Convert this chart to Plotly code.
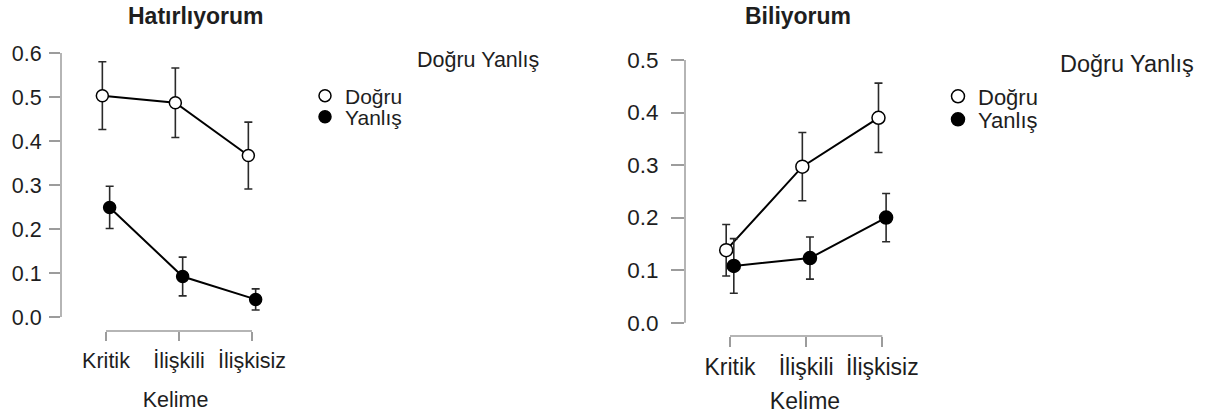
import plotly.graph_objects as go

# ---------------- data ----------------
categories = ["Kritik", "İlişkili", "İlişkisiz"]
groups = ["Doğru", "Yanlış"]

hat_dogru = [0.503, 0.487, 0.367]
hat_dogru_err = [0.077, 0.079, 0.076]
hat_yanlis = [0.249, 0.092, 0.040]
hat_yanlis_err = [0.048, 0.044, 0.024]

bil_dogru = [0.138, 0.297, 0.390]
bil_dogru_err = [0.049, 0.065, 0.066]
bil_yanlis = [0.108, 0.123, 0.200]
bil_yanlis_err = [0.052, 0.040, 0.046]

hat_yticks = [0.0, 0.1, 0.2, 0.3, 0.4, 0.5, 0.6]
bil_yticks = [0.0, 0.1, 0.2, 0.3, 0.4, 0.5]

titles = ["Hatırlıyorum", "Biliyorum"]
x_title = "Kelime"
legend_title = "Doğru Yanlış"

# ---------------- layout helpers ----------------
W, H = 1212, 414
FONT = "Liberation Sans, Arial, Helvetica, sans-serif"
TXT = "#1e1e1e"
AX = "#9c9c9c"
DODGE = 0.05


def pxx(x):
    return x / W


def pxy(y):
    return 1 - y / H


xi = list(range(len(categories)))

fig = go.Figure()


def add_panel(xa, ya, dogru, dogru_err, yanlis, yanlis_err, leg_a, leg_b, msize):
    for name, vals, errs, fill, off, leg in [
        (groups[0], dogru, dogru_err, "white", -DODGE, leg_a),
        (groups[1], yanlis, yanlis_err, "black", DODGE, leg_b),
    ]:
        xs = [i + off for i in xi]
        fig.add_trace(go.Scatter(
            x=xs, y=vals, mode="lines", xaxis=xa, yaxis=ya,
            line=dict(color="black", width=2), showlegend=False, hoverinfo="skip"))
        fig.add_trace(go.Scatter(
            x=xs, y=vals, mode="markers", name=name, xaxis=xa, yaxis=ya,
            legend=leg,
            marker=dict(size=msize, color=fill, line=dict(color="black", width=1.5)),
            error_y=dict(type="data", array=errs, visible=True,
                         color="#2a2a2a", thickness=1.6, width=4)))


add_panel("x", "y", hat_dogru, hat_dogru_err, hat_yanlis, hat_yanlis_err,
          "legend", "legend2", 12)
add_panel("x2", "y2", bil_dogru, bil_dogru_err, bil_yanlis, bil_yanlis_err,
          "legend3", "legend4", 13)

# pixel geometry of the two panels
# left: y-axis at x=61, ticks at x=106/179/252; y 0 at 317, 0.6 at 53
L_unit_x = (252 - 106) / 2
L_unit_y = (317 - 53) / 0.6
# right: y-axis at x=685, ticks at 730/806/882; y 0 at 322.7, 0.5 at 60
R_unit_x = (882.3 - 730) / 2
R_unit_y = (322.7 - 60) / 0.5

axis_common = dict(showgrid=False, zeroline=False, showline=False,
                   ticks="outside", tickcolor=AX, tickwidth=1.5)


def tf(size):
    return dict(family=FONT, size=size, color=TXT)


fig.update_layout(
    width=W, height=H,
    margin=dict(l=0, r=0, t=0, b=0),
    paper_bgcolor="white", plot_bgcolor="white",
    font=dict(family=FONT, color=TXT),
    xaxis=dict(domain=[pxx(61), pxx(290)],
               range=[-(106 - 61) / L_unit_x, 2 + (290 - 252) / L_unit_x],
               tickvals=xi, ticktext=categories, ticklen=9, anchor="y",
               tickfont=tf(21.5), ticklabelstandoff=1,
               title=dict(text=x_title, font=tf(21.5), standoff=20),
               **axis_common),
    yaxis=dict(domain=[pxy(331), pxy(40)],
               range=[-(331 - 317) / L_unit_y, 0.6 + (53 - 40) / L_unit_y],
               tickvals=hat_yticks, tickformat=".1f", ticklen=11, anchor="x",
               ticklabelstandoff=3, tickfont=tf(21.5),
               **axis_common),
    xaxis2=dict(domain=[pxx(685), pxx(925)],
                range=[-(730 - 685) / R_unit_x, 2 + (925 - 882.3) / R_unit_x],
                tickvals=xi, ticktext=categories, ticklen=10, anchor="y2",
                tickfont=tf(23),
                title=dict(text=x_title, font=tf(23), standoff=17),
                **axis_common),
    yaxis2=dict(domain=[pxy(336), pxy(45)],
                range=[-(336 - 322.7) / R_unit_y, 0.5 + (60 - 45) / R_unit_y],
                tickvals=bil_yticks, tickformat=".1f", ticklen=13, anchor="x2",
                ticklabelstandoff=8, tickfont=tf(22.5),
                **axis_common),
)

legend_common = dict(xanchor="left", yanchor="middle", bgcolor="rgba(0,0,0,0)",
                     borderwidth=0)
fig.update_layout(
    legend=dict(x=pxx(305), y=pxy(96), font=tf(21), **legend_common),
    legend2=dict(x=pxx(305), y=pxy(117), font=tf(21), **legend_common),
    legend3=dict(x=pxx(938), y=pxy(96.5), font=tf(22), **legend_common),
    legend4=dict(x=pxx(938), y=pxy(119.5), font=tf(22), **legend_common),
)

# detached axis spines (span the tick range, as in the reference)
shapes = []
for xa, ya, yt in [("x", "y", hat_yticks), ("x2", "y2", bil_yticks)]:
    shapes.append(dict(type="line", xref=f"{xa} domain", yref=ya,
                       x0=0, x1=0, y0=min(yt), y1=max(yt),
                       line=dict(color=AX, width=1.5)))
    shapes.append(dict(type="line", xref=xa, yref=f"{ya} domain",
                       x0=min(xi), x1=max(xi), y0=0, y1=0,
                       line=dict(color=AX, width=1.5)))
fig.update_layout(shapes=shapes)

annotations = [
    dict(text=f"<b>{titles[0]}</b>", x=pxx(195), y=pxy(16), xref="paper", yref="paper",
         showarrow=False, xanchor="center", yanchor="middle", font=tf(23)),
    dict(text=f"<b>{titles[1]}</b>", x=pxx(798), y=pxy(16), xref="paper", yref="paper",
         showarrow=False, xanchor="center", yanchor="middle", font=tf(23)),
    dict(text=legend_title, x=pxx(415), y=pxy(60), xref="paper", yref="paper",
         showarrow=False, xanchor="left", yanchor="middle", font=tf(21.5)),
    dict(text=legend_title, x=pxx(1058), y=pxy(64), xref="paper", yref="paper",
         showarrow=False, xanchor="left", yanchor="middle", font=tf(23.5)),
]
fig.update_layout(annotations=annotations)

# remove the default page margin so the figure fills the window exactly
fig.write_html("out.html", config={"displayModeBar": False},
               post_script="document.body.style.margin='0';")
